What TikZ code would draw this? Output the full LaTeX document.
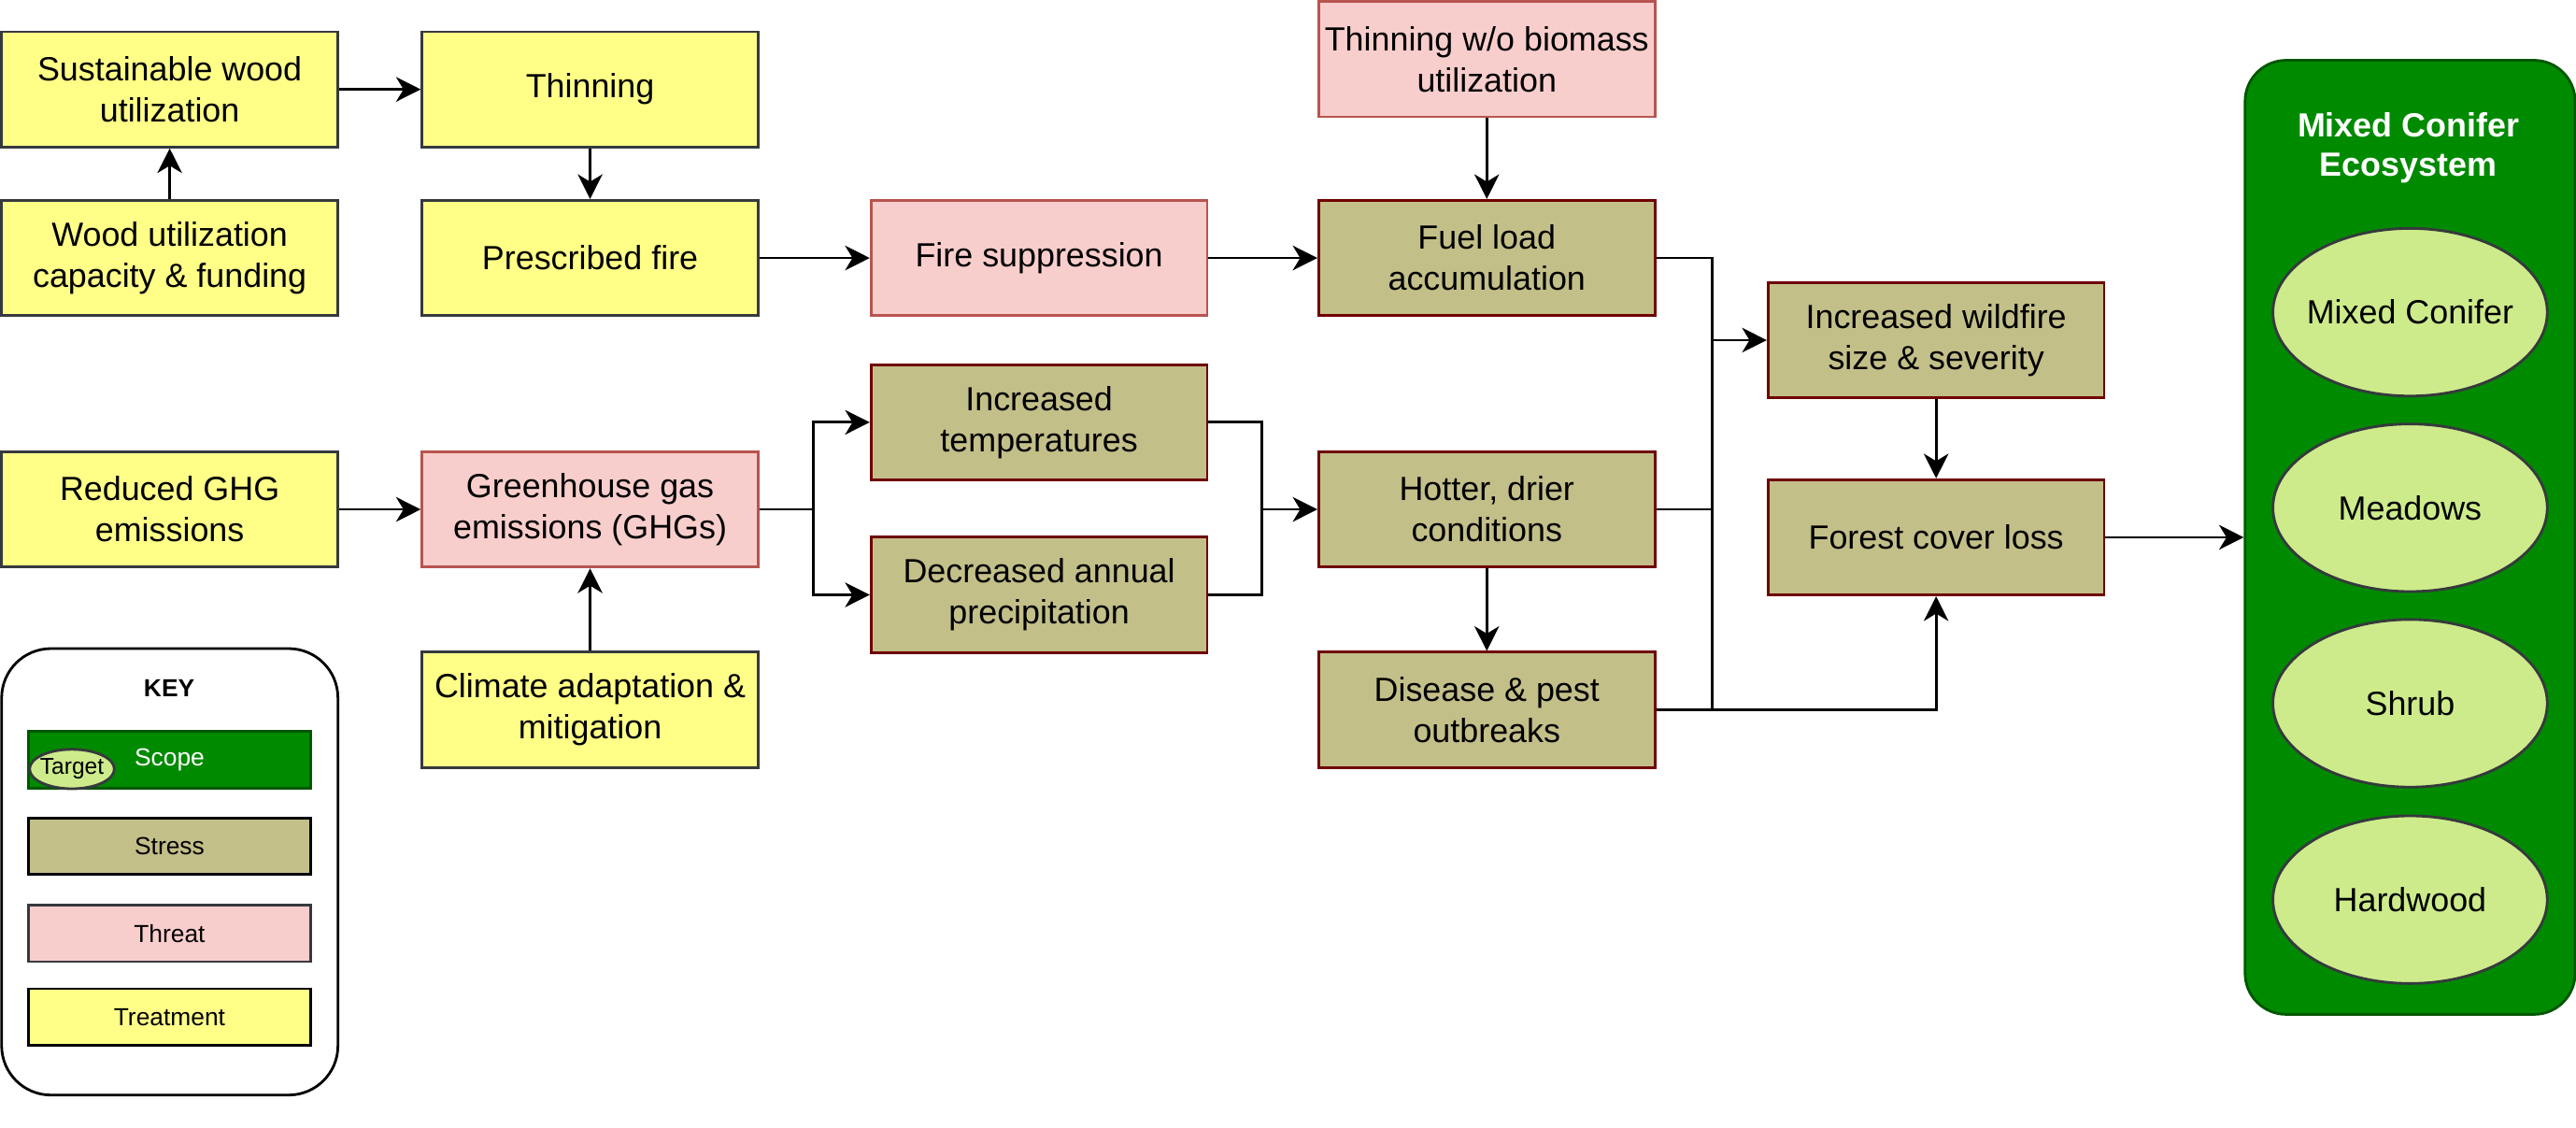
\documentclass[tikz,border=0pt]{standalone}
\usepackage{fontspec}
\setmainfont{Liberation Sans}
\usetikzlibrary{arrows.meta,shapes.geometric}
\definecolor{trtfill}{HTML}{FFFF88}
\definecolor{trtline}{HTML}{36393D}
\definecolor{thrfill}{HTML}{F8CECC}
\definecolor{thrline}{HTML}{B85450}
\definecolor{strfill}{HTML}{C3BF89}
\definecolor{strline}{HTML}{6F0000}
\definecolor{scpfill}{HTML}{008A00}
\definecolor{scpline}{HTML}{005700}
\definecolor{tgtfill}{HTML}{CDEB8B}
\definecolor{tgtline}{HTML}{36393D}
\begin{document}
\begin{tikzpicture}[x=1pt,y=-1pt,
 box/.style={draw, line width=1.6pt, minimum width=204.6pt, minimum height=70.2pt, inner sep=0pt, align=center, font=\fontsize{20.4}{25}\selectfont},
 treat/.style={box, fill=trtfill, draw=trtline},
 threat/.style={box, fill=thrfill, draw=thrline},
 stress/.style={box, fill=strfill, draw=strline},
 arr/.style={line width=1.6pt, -{Stealth[length=15pt,width=15pt,inset=4.5pt]}},
 conn/.style={line width=1.6pt},
 target/.style={ellipse, draw=tgtline, fill=tgtfill, line width=1.6pt, minimum width=167pt, minimum height=102pt, inner sep=0pt, font=\fontsize{20.4}{25}\selectfont},
 keybar/.style={draw, line width=1.6pt, minimum width=171.6pt, minimum height=34.5pt, inner sep=0pt, font=\fontsize{15}{18}\selectfont},
]
\useasboundingbox (0,0) rectangle (1568,686);

% treatments
\node[treat] (sus) at (103.3,54.4) {Sustainable wood\\utilization};
\node[treat] (thin) at (359.2,54.4) {Thinning};
\node[treat] (wood) at (103.3,157) {Wood utilization\\capacity \& funding};
\node[treat] (presc) at (359.2,157) {Prescribed fire};
\node[treat] (redghg) at (103.3,310) {Reduced GHG\\emissions};
\node[treat] (climate) at (359.2,432) {Climate adaptation \&\\mitigation};

% threats
\node[threat] (firesup) at (632.5,157) {Fire suppression};
\node[threat] (ghg) at (359.2,310) {Greenhouse gas\\emissions (GHGs)};
\node[threat] (thinwo) at (905,36) {Thinning w/o biomass\\utilization};

% stresses
\node[stress] (inctemp) at (632.5,257) {Increased\\temperatures};
\node[stress] (decprec) at (632.5,362) {Decreased annual\\precipitation};
\node[stress] (fuel) at (905,157) {Fuel load\\accumulation};
\node[stress] (hot) at (905,310) {Hotter, drier\\conditions};
\node[stress] (dis) at (905,432) {Disease \& pest\\outbreaks};
\node[stress] (wild) at (1178.5,207) {Increased wildfire\\size \& severity};
\node[stress] (forest) at (1178.5,327) {Forest cover loss};

% scope panel
\node[draw=scpline, fill=scpfill, line width=1.6pt, rounded corners=25pt, minimum width=200.9pt, minimum height=580.6pt, inner sep=0pt] (eco) at (1467,327) {};
\node[font=\bfseries\fontsize{20.4}{24}\selectfont, text=white, align=center] (ecotitle) at (1466,90) {Mixed Conifer\\Ecosystem};
\node[target] (t1) at (1467,190) {\makebox[0pt]{Mixed Conifer}};
\node[target] (t2) at (1467,309) {\makebox[0pt]{Meadows}};
\node[target] (t3) at (1467,428) {\makebox[0pt]{Shrub}};
\node[target] (t4) at (1467,547.5) {\makebox[0pt]{Hardwood}};

% connectors
\coordinate (j1) at (495,310);
\coordinate (j2) at (768,310);
\coordinate (j3) at (1042,207);
\draw[arr] (sus.east) -- (thin.west);
\draw[arr] (wood.north) -- (sus.south);
\draw[arr] (thin.south) -- (presc.north);
\draw[arr] (presc.east) -- (firesup.west);
\draw[arr] (firesup.east) -- (fuel.west);
\draw[arr] (thinwo.south) -- (fuel.north);
\draw[arr] (redghg.east) -- (ghg.west);
\draw[arr] (climate.north) -- (ghg.south);
\draw[arr] (ghg.east) -- (j1) |- (inctemp.west);
\draw[arr] (j1) |- (decprec.west);
\draw[conn] (decprec.east) -| (j2);
\draw[arr] (inctemp.east) -| (j2) -- (hot.west);
\draw[arr] (hot.south) -- (dis.north);
\draw[conn] (fuel.east) -| (j3);
\draw[conn] (hot.east) -| (j3);
\draw[conn] (dis.east) -| (j3);
\draw[arr] (j3) -- (wild.west);
\draw[arr] (dis.east) -| (forest.south);
\draw[arr] (wild.south) -- (forest.north);
\draw[arr] (forest.east) -- (eco.west);

% key
\draw[line width=1.6pt, rounded corners=30pt] (1,394.7) rectangle (205.7,666.4);
\node[font=\bfseries\fontsize{15}{18}\selectfont] (keytitle) at (103,419) {KEY};
\node[keybar, draw=scpline, fill=scpfill, text=white] (kscope) at (103.2,462.5) {Scope};
\node[ellipse, draw=tgtline, fill=tgtfill, line width=1.6pt, minimum width=51.6pt, minimum height=24pt, inner sep=0pt, font=\fontsize{14}{16}\selectfont] (ktarget) at (43.8,468) {\makebox[0pt]{Target}};
\node[keybar, draw=black, fill=strfill] (kstress) at (103.2,515) {Stress};
\node[keybar, draw=tgtline, fill=thrfill] (kthreat) at (103.2,568) {Threat};
\node[keybar, draw=black, fill=trtfill] (ktreat) at (103.2,619) {Treatment};
\end{tikzpicture}
\end{document}
